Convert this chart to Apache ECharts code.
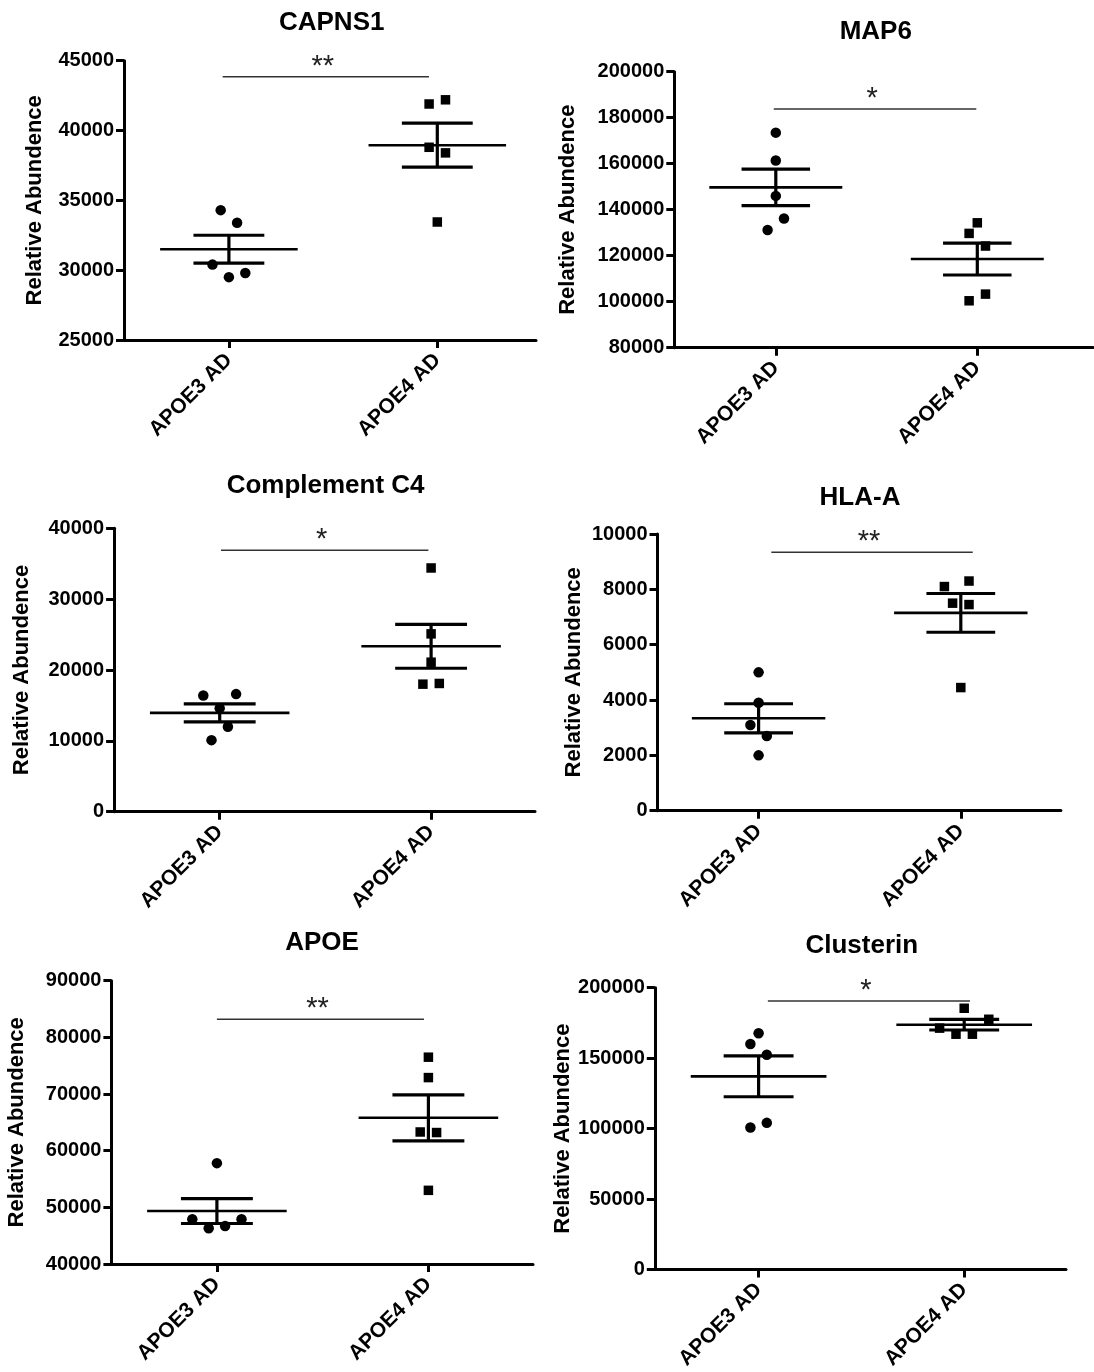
<!DOCTYPE html>
<html>
<head>
<meta charset="utf-8">
<title>Relative abundance, APOE3 AD vs APOE4 AD</title>
<script src="https://cdn.jsdelivr.net/npm/echarts@6/dist/echarts.min.js"></script>
<style>
  html, body { margin: 0; padding: 0; background: #fff; }
  #main { width: 1094px; height: 1372px; }
</style>
</head>
<body>
<div id="main"></div>
<script>
// ---- data ----
var categories = ['APOE3 AD', 'APOE4 AD'];
var titles = ['CAPNS1', 'MAP6', 'Complement C4', 'HLA-A', 'APOE', 'Clusterin'];

var yMin = [25000, 80000, 0, 0, 40000, 0];
var yMax = [45000, 200000, 40000, 10000, 90000, 200000];
var yStep = [5000, 20000, 10000, 2000, 10000, 50000];

var capns1E3 = [34300, 33400, 30400, 29500, 29800];
var capns1E4 = [41900, 42200, 38800, 38400, 33450];
var map6E3 = [173500, 161400, 146000, 136200, 131200];
var map6E4 = [134300, 129700, 124200, 103300, 100400];
var c4E3 = [16400, 16600, 14600, 12000, 10100];
var c4E4 = [34400, 25100, 21100, 18000, 18100];
var hlaE3 = [5000, 3900, 3100, 2700, 2000];
var hlaE4 = [8100, 8300, 7500, 7450, 4450];
var apoeE3 = [57800, 47900, 47900, 46300, 46700];
var apoeE4 = [76500, 72900, 63300, 63200, 53000];
var clusE3 = [167700, 160000, 152400, 104100, 100800];
var clusE4 = [185400, 177600, 171300, 167000, 167000];

// mean and SEM bars as drawn
var meanE3 = [31500, 149700, 13950, 3340, 49350, 137100];
var meanE4 = [38950, 118550, 23350, 7150, 65800, 173750];
var semE3 = [1000, 7970, 1270, 525, 2200, 14500];
var semE4 = [1575, 6950, 3100, 700, 4060, 3750];

var sigLabels = ['**', '*', '*', '**', '**', '*'];
var sigLevels = [43850, 183800, 36900, 9340, 83200, 190600];

var groupsE3 = [capns1E3, map6E3, c4E3, hlaE3, apoeE3, clusE3];
var groupsE4 = [capns1E4, map6E4, c4E4, hlaE4, apoeE4, clusE4];

// ---- layout (pixels) ----
// axis left, APOE3 tick, APOE4 tick, axis right, plot top, plot bottom
var boxes = [
  [124, 228.9, 437.3, 536, 60.7, 340],
  [674.3, 775.8, 977.3, 1093, 71.7, 347.7],
  [114.1, 219.7, 431.1, 535, 528.3, 811.7],
  [657.5, 758.6, 960.8, 1060.9, 534, 810.7],
  [111.4, 216.9, 428.4, 533, 980.7, 1264],
  [654.8, 758.6, 964.2, 1066, 987.7, 1270.7]
];
var titlePos = [[331.7, 10], [875.8, 19], [325.6, 473], [860, 485], [322, 930], [861.8, 933]];
var nameGaps = [78, 95, 81, 73, 83, 81];
var sigSpan = [[-0.03, 0.96], [-0.01, 0.995], [0.006, 0.987], [0.063, 1.059], [0, 0.979], [0.045, 1.028]];
// sideways offsets of the dots, in dot widths
var jitterE3 = [[-1, 1, -2, 0, 2], [0, 0, 0, 1, -1], [-2, 2, 0, 1, -1], [0, 0, -1, 1, 0], [0, -3, 3, -1, 1], [0, -1, 1, 1, -1]];
var jitterE4 = [[-1, 1, -1, 1, 0], [0, -1, 1, 1, -1], [0, 0, 0, -1, 1], [-2, 1, -1, 1, 0], [0, 0, -1, 1, 0], [0, 3, -3, -1, 1]];

var FONT = '"Liberation Sans", Arial, Helvetica, sans-serif';

var chart = echarts.init(document.getElementById('main'));

// mean line + SEM whiskers
function renderBar (params, api) {
  var x = api.value(0);
  var m = api.value(1);
  var s = api.value(2);
  var c = api.coord([x, m]);
  var hi = api.coord([x, m + s]);
  var lo = api.coord([x, m - s]);
  var unit = api.size([1, 0])[0];
  var mw = 0.33 * unit;
  var cw = 0.17 * unit;
  var bar = { stroke: '#000', lineWidth: 3.2 };
  return {
    type: 'group',
    children: [
      { type: 'line', shape: { x1: c[0] - mw, y1: c[1], x2: c[0] + mw, y2: c[1] }, style: { stroke: '#000', lineWidth: 2.6 } },
      { type: 'line', shape: { x1: c[0], y1: hi[1], x2: c[0], y2: lo[1] }, style: bar },
      { type: 'line', shape: { x1: c[0] - cw, y1: hi[1], x2: c[0] + cw, y2: hi[1] }, style: bar },
      { type: 'line', shape: { x1: c[0] - cw, y1: lo[1], x2: c[0] + cw, y2: lo[1] }, style: bar }
    ]
  };
}

// significance bracket with asterisks
function sigRenderer (label) {
  return function (params, api) {
    var p0 = api.coord([api.value(0), api.value(2)]);
    var p1 = api.coord([api.value(1), api.value(2)]);
    return {
      type: 'group',
      children: [
        { type: 'line', shape: { x1: p0[0], y1: p0[1], x2: p1[0], y2: p1[1] }, style: { stroke: '#333', lineWidth: 1.5 } },
        {
          type: 'text',
          x: (p0[0] + p1[0]) / 2 - 3,
          y: p0[1] - 10,
          style: { text: label, fill: '#222', fontSize: 29, fontFamily: FONT, align: 'center', verticalAlign: 'middle' }
        }
      ]
    };
  };
}

var option = {
  animation: false,
  backgroundColor: '#fff',
  title: [],
  grid: [],
  xAxis: [],
  yAxis: [],
  series: []
};

titles.forEach(function (name, i) {
  var b = boxes[i];
  var unit = b[2] - b[1];
  var step = 8.2 / unit;

  option.title.push({
    text: name,
    left: titlePos[i][0],
    top: titlePos[i][1],
    textAlign: 'center',
    padding: 0,
    textStyle: { fontSize: 26, fontWeight: 'bold', color: '#000', fontFamily: FONT }
  });

  option.grid.push({ left: b[0], top: b[4], width: b[3] - b[0], height: b[5] - b[4] });

  option.xAxis.push({
    gridIndex: i,
    type: 'value',
    min: -(b[1] - b[0]) / unit,
    max: (b[3] - b[1]) / unit,
    axisLine: { show: true, onZero: false, lineStyle: { color: '#000', width: 3 } },
    axisTick: { show: true, customValues: [0, 1], length: 8, lineStyle: { color: '#000', width: 3 } },
    axisLabel: {
      customValues: [0, 1],
      formatter: function (v) { return categories[Math.round(v)]; },
      rotate: 45,
      margin: 17,
      fontSize: 21,
      fontWeight: 'bold',
      color: '#000',
      fontFamily: FONT
    },
    splitLine: { show: false }
  });

  option.yAxis.push({
    gridIndex: i,
    type: 'value',
    min: yMin[i],
    max: yMax[i],
    interval: yStep[i],
    name: 'Relative Abundence',
    nameLocation: 'middle',
    nameRotate: 90,
    nameGap: nameGaps[i],
    nameTextStyle: { fontSize: 22, fontWeight: 'bold', color: '#000', fontFamily: FONT },
    axisLine: { show: true, onZero: false, lineStyle: { color: '#000', width: 3 } },
    axisTick: { show: true, length: 8, lineStyle: { color: '#000', width: 3 } },
    axisLabel: {
      margin: 10,
      fontSize: 20,
      fontWeight: 'bold',
      color: '#000',
      fontFamily: FONT,
      formatter: function (v) { return String(v); }
    },
    splitLine: { show: false }
  });

  option.series.push({
    type: 'scatter',
    xAxisIndex: i,
    yAxisIndex: i,
    symbol: 'circle',
    symbolSize: 10.5,
    itemStyle: { color: '#000', opacity: 1 },
    silent: true,
    data: groupsE3[i].map(function (v, k) { return [jitterE3[i][k] * step, v]; })
  });
  option.series.push({
    type: 'scatter',
    xAxisIndex: i,
    yAxisIndex: i,
    symbol: 'rect',
    symbolSize: 9.5,
    itemStyle: { color: '#000', opacity: 1 },
    silent: true,
    data: groupsE4[i].map(function (v, k) { return [1 + jitterE4[i][k] * step, v]; })
  });
  option.series.push({
    type: 'custom',
    xAxisIndex: i,
    yAxisIndex: i,
    renderItem: renderBar,
    encode: { x: 0, y: 1 },
    silent: true,
    z: 3,
    data: [[0, meanE3[i], semE3[i]], [1, meanE4[i], semE4[i]]]
  });
  option.series.push({
    type: 'custom',
    xAxisIndex: i,
    yAxisIndex: i,
    renderItem: sigRenderer(sigLabels[i]),
    encode: { x: [0, 1], y: 2 },
    silent: true,
    z: 3,
    data: [[sigSpan[i][0], sigSpan[i][1], sigLevels[i]]]
  });
});

chart.setOption(option);
window.addEventListener('resize', function () {
  chart.resize();
});
</script>
</body>
</html>
